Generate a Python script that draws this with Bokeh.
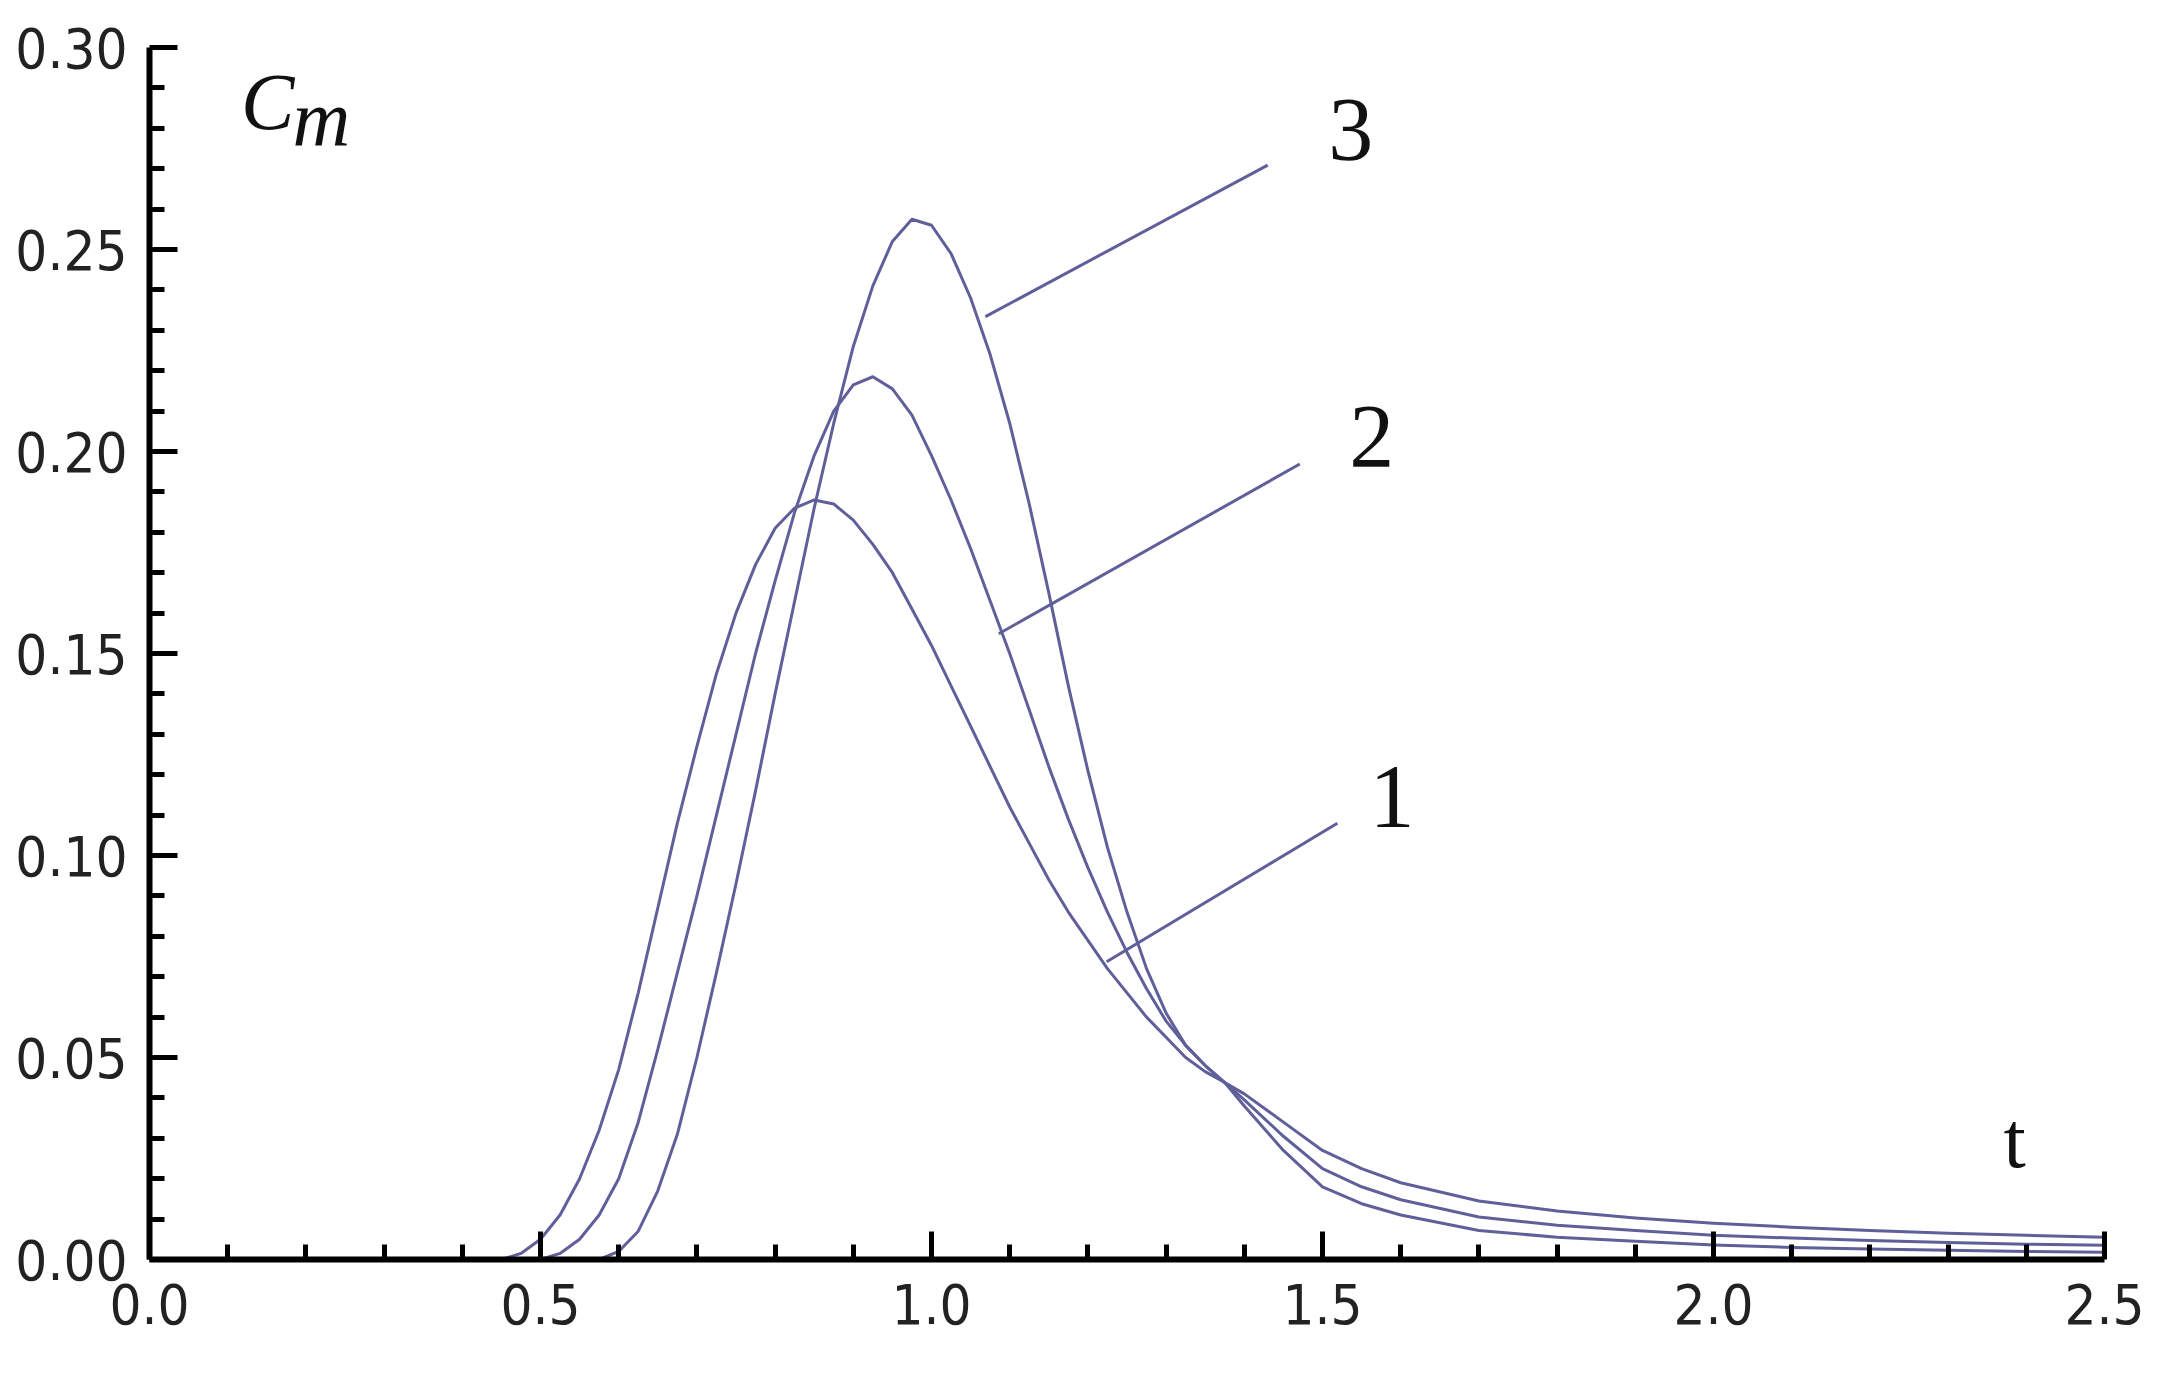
from bokeh.plotting import figure
from bokeh.models import FixedTicker, Range1d, NumeralTickFormatter
from bokeh.core.properties import value
from bokeh.embed import file_html
from bokeh.resources import INLINE

# ---- data ----
t = [0.400, 0.425, 0.450, 0.475, 0.500, 0.525, 0.550, 0.575, 0.600, 0.625,
     0.650, 0.675, 0.700, 0.725, 0.750, 0.775, 0.800, 0.825, 0.850, 0.875,
     0.900, 0.925, 0.950, 0.975, 1.000, 1.025, 1.050, 1.075, 1.100, 1.125,
     1.150, 1.175, 1.200, 1.225, 1.250, 1.275, 1.300, 1.325, 1.350, 1.375,
     1.400, 1.450, 1.500, 1.550, 1.600, 1.700, 1.800, 1.900, 2.000, 2.100,
     2.200, 2.300, 2.400, 2.500]

c1 = [0.0, 0.0, 0.0, 0.0015, 0.005, 0.011, 0.020, 0.032, 0.047, 0.066,
      0.087, 0.108, 0.127, 0.145, 0.160, 0.172, 0.181, 0.186, 0.188, 0.187,
      0.183, 0.177, 0.170, 0.161, 0.152, 0.142, 0.132, 0.122, 0.112, 0.103,
      0.094, 0.086, 0.079, 0.072, 0.066, 0.060, 0.055, 0.050, 0.0465, 0.0438,
      0.041, 0.0340, 0.027, 0.0225, 0.019, 0.0145, 0.012, 0.0103, 0.009, 0.008,
      0.0072, 0.0065, 0.006, 0.0055]

c2 = [0.0, 0.0, 0.0, 0.0, 0.0, 0.0015, 0.005, 0.011, 0.020, 0.034,
      0.052, 0.071, 0.090, 0.110, 0.130, 0.150, 0.168, 0.185, 0.199, 0.210,
      0.2165, 0.2185, 0.2155, 0.209, 0.199, 0.188, 0.176, 0.163, 0.150, 0.136,
      0.122, 0.109, 0.097, 0.086, 0.076, 0.067, 0.059, 0.053, 0.048, 0.0438,
      0.0395, 0.0305, 0.0225, 0.018, 0.0148, 0.0105, 0.0085, 0.0072, 0.006, 0.0053,
      0.0047, 0.0042, 0.0038, 0.0035]

c3 = [0.0, 0.0, 0.0, 0.0, 0.0, 0.0, 0.0, 0.0, 0.002, 0.007,
      0.017, 0.031, 0.050, 0.071, 0.093, 0.116, 0.140, 0.163, 0.186, 0.207,
      0.226, 0.241, 0.252, 0.2575, 0.256, 0.249, 0.238, 0.224, 0.207, 0.187,
      0.165, 0.142, 0.121, 0.102, 0.086, 0.072, 0.061, 0.053, 0.048, 0.0438,
      0.038, 0.027, 0.018, 0.0138, 0.011, 0.0072, 0.0055, 0.0045, 0.0036, 0.003,
      0.0026, 0.0023, 0.002, 0.0018]

# leader lines (start on curve, end near number label)
lead_x0 = [1.224, 1.086, 1.069]
lead_y0 = [0.0737, 0.1549, 0.2334]
lead_x1 = [1.519, 1.471, 1.430]
lead_y1 = [0.108, 0.1969, 0.2709]
lab_text = ["1", "2", "3"]
lab_x = [1.589, 1.563, 1.536]
lab_y = [0.1145, 0.2037, 0.2795]

x_major = [0.0, 0.5, 1.0, 1.5, 2.0, 2.5]
x_minor = [0.1, 0.2, 0.3, 0.4, 0.6, 0.7, 0.8, 0.9, 1.1, 1.2, 1.3, 1.4,
           1.6, 1.7, 1.8, 1.9, 2.1, 2.2, 2.3, 2.4]
y_major = [0.0, 0.05, 0.10, 0.15, 0.20, 0.25, 0.30]
y_minor = [0.01, 0.02, 0.03, 0.04, 0.06, 0.07, 0.08, 0.09, 0.11, 0.12, 0.13, 0.14,
           0.16, 0.17, 0.18, 0.19, 0.21, 0.22, 0.23, 0.24, 0.26, 0.27, 0.28, 0.29]

LINE = "#5f5f9a"

p = figure(width=2146, height=1362, output_backend="svg", toolbar_location=None,
           x_range=Range1d(0, 2.5), y_range=Range1d(0, 0.30),
           min_border_left=149, min_border_right=42, min_border_top=47, min_border_bottom=103)
p.outline_line_color = None
p.grid.visible = False
p.background_fill_color = "white"
p.border_fill_color = "white"

for c in (c1, c2, c3):
    p.line(t, c, line_color=LINE, line_width=3, line_join="round")

p.segment(lead_x0, lead_y0, lead_x1, lead_y1, line_color=LINE, line_width=3)
p.text(lab_x, lab_y, text=lab_text, text_font=value("Liberation Serif"), text_font_size="90px",
       text_align="center", text_baseline="middle", text_color="#111111")

# axis titles placed as in the reference
p.text([0.117], [0.2865], text=["C"], text_font=value("Liberation Serif"), text_font_style="italic",
       text_font_size="80px", text_align="left", text_baseline="middle", text_color="#111111")
p.text([0.183], [0.2825], text=["m"], text_font=value("Liberation Serif"), text_font_style="italic",
       text_font_size="80px", text_align="left", text_baseline="middle", text_color="#111111")
p.text([2.385], [0.0295], text=["t"], text_font=value("Liberation Serif"),
       text_font_size="80px", text_align="center", text_baseline="middle", text_color="#111111")

for ax, maj, mnr, fmt in ((p.xaxis[0], x_major, x_minor, "0.0"), (p.yaxis[0], y_major, y_minor, "0.00")):
    ax.ticker = FixedTicker(ticks=maj, minor_ticks=mnr)
    ax.formatter = NumeralTickFormatter(format=fmt)
    ax.axis_line_width = 6
    ax.axis_line_color = "black"
    ax.major_tick_in = 28
    ax.major_tick_out = 0
    ax.minor_tick_in = 15
    ax.minor_tick_out = 0
    ax.major_tick_line_width = 5
    ax.minor_tick_line_width = 5
    ax.major_label_text_font = "DejaVu Sans Condensed"
    ax.major_label_text_font_size = "56px"
    ax.major_label_text_color = "#222222"

p.xaxis.major_label_standoff = 24
p.yaxis.major_label_standoff = 22

open("out.html", "w").write(file_html(p, INLINE))
